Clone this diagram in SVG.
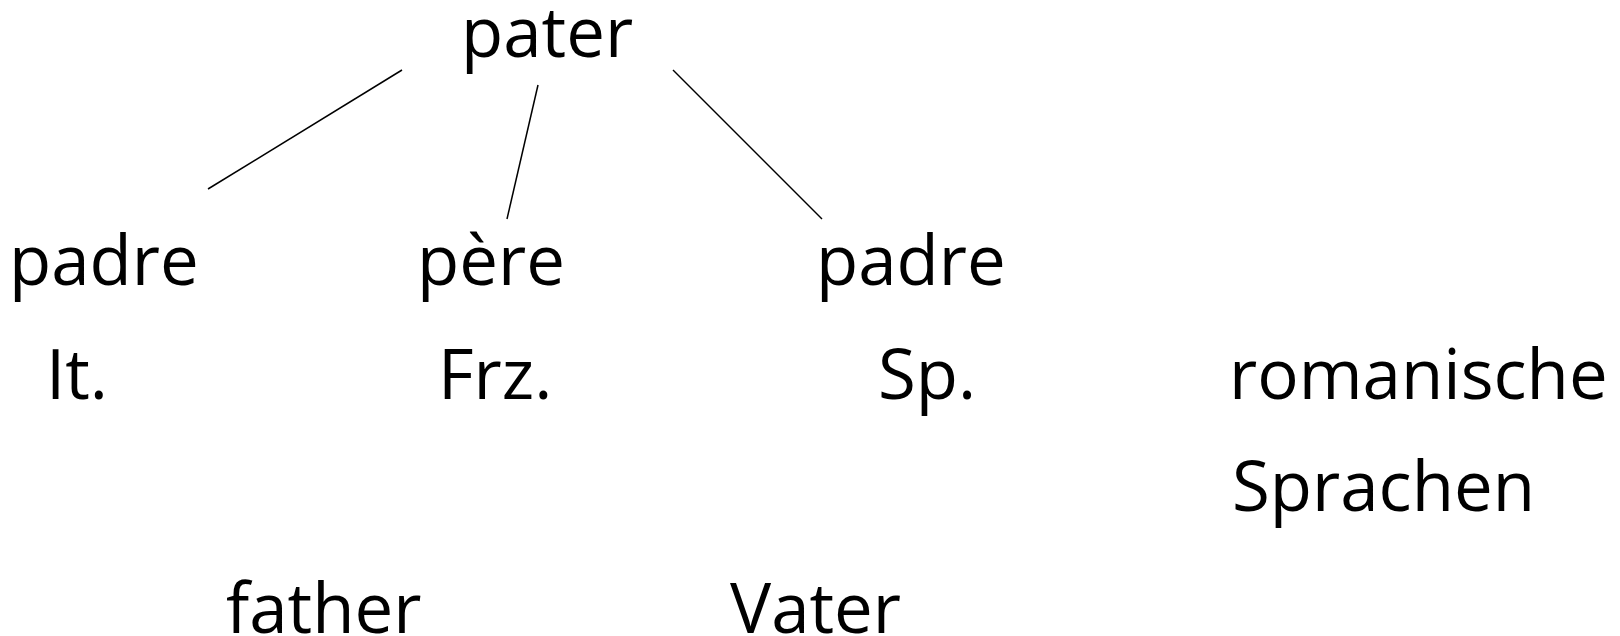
<svg xmlns="http://www.w3.org/2000/svg" width="1620" height="636" viewBox="0 0 1620 636">
  <style>
    .t { font-family: "Open Sans", "Noto Sans", "Liberation Sans", sans-serif; font-size: 69px; fill: #000; }
    .c { stroke: #000; stroke-width: 1.5; fill: none; }
  </style>
  <rect width="1620" height="636" fill="#fff"/>
  <g id="connectors">
    <line class="c" x1="402" y1="70" x2="208" y2="189"/>
    <line class="c" x1="538" y1="85" x2="507" y2="219"/>
    <line class="c" x1="673" y1="70" x2="822" y2="219"/>
  </g>
  <g id="node-pater"><text class="t" x="461" y="57">pater</text></g>
  <g id="node-padre-it"><text class="t" x="9" y="285">padre</text></g>
  <g id="node-pere"><text class="t" x="417" y="285">père</text></g>
  <g id="node-padre-sp"><text class="t" x="816" y="285">padre</text></g>
  <g id="label-it"><text class="t" x="46" y="399">It.</text></g>
  <g id="label-frz"><text class="t" x="438" y="399">Frz.</text></g>
  <g id="label-sp"><text class="t" x="878" y="399">Sp.</text></g>
  <g id="label-romanische"><text class="t" x="1229" y="399">romanische</text></g>
  <g id="label-sprachen"><text class="t" x="1232" y="511">Sprachen</text></g>
  <g id="node-father"><text class="t" x="226" y="633">father</text></g>
  <g id="node-vater"><text class="t" x="730" y="633">Vater</text></g>
</svg>
